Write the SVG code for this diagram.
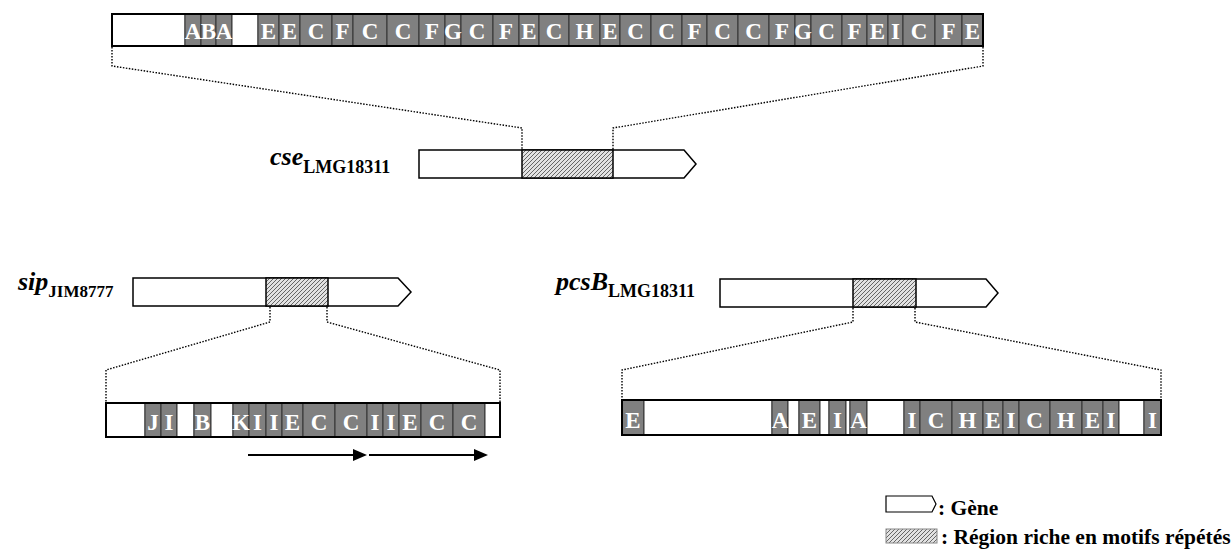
<svg xmlns="http://www.w3.org/2000/svg" width="1232" height="557" viewBox="0 0 1232 557">
<style>
.seg{fill:#808080;stroke:#333;stroke-width:1}
.wht{fill:#fff;stroke:#333;stroke-width:1}
.frame{fill:none;stroke:#000;stroke-width:2}
.lt{font-family:"Liberation Serif","Times New Roman",serif;font-weight:bold;font-size:23px;fill:#fff;text-anchor:middle}
.gene{fill:#fff;stroke:#000;stroke-width:1.5}
.hatch{fill:url(#hp);stroke:#000;stroke-width:1.5}
.dot{fill:none;stroke:#000;stroke-width:1.4;stroke-dasharray:1.5 1.5}
.lbl{font-family:"Liberation Serif","Times New Roman",serif;font-weight:bold;fill:#000}
.main{font-style:italic;font-size:26px}
.sub{font-size:18px}
.leg{font-family:"Liberation Serif","Times New Roman",serif;font-weight:bold;font-size:21.5px;fill:#000}
.arr{stroke:#000;stroke-width:2;fill:none}
</style>
<defs>
<pattern id="hp" patternUnits="userSpaceOnUse" width="4" height="4">
<rect width="4" height="4" fill="#e2e2e2"/>
<path d="M-1,1 L1,-1 M0,4 L4,0 M3,5 L5,3" stroke="#666" stroke-width="1"/>
</pattern>
</defs>

<g id="connectors">
<polyline class="dot" points="112,47 112,66 522,128 522,150"/>
<polyline class="dot" points="983,47 983,66 613,128 613,150"/>
<polyline class="dot" points="270,307 270,322 106,370 106,402"/>
<polyline class="dot" points="327,307 327,322 500,370 500,402"/>
<polyline class="dot" points="853,308 853,322 622,370 622,400"/>
<polyline class="dot" points="915,308 915,322 1161,370 1161,400"/>
<line class="arr" x1="248" y1="455" x2="356" y2="455"/>
<polygon points="353,449 367,455 353,461" fill="#000"/>
<line class="arr" x1="369" y1="455" x2="477" y2="455"/>
<polygon points="474,449 488,455 474,461" fill="#000"/>
</g>

<g id="top-bar">
<rect class="wht" x="112" y="14" width="73" height="32"/>
<rect class="seg" x="185" y="14" width="16" height="32"/>
<rect class="seg" x="201" y="14" width="15" height="32"/>
<rect class="seg" x="216" y="14" width="16" height="32"/>
<rect class="wht" x="232" y="14" width="26" height="32"/>
<rect class="seg" x="258" y="14" width="21" height="32"/>
<rect class="seg" x="279" y="14" width="21" height="32"/>
<rect class="seg" x="300" y="14" width="32" height="32"/>
<rect class="seg" x="332" y="14" width="21" height="32"/>
<rect class="seg" x="353" y="14" width="34" height="32"/>
<rect class="seg" x="387" y="14" width="32" height="32"/>
<rect class="seg" x="419" y="14" width="26" height="32"/>
<rect class="seg" x="445" y="14" width="16" height="32"/>
<rect class="seg" x="461" y="14" width="32" height="32"/>
<rect class="seg" x="493" y="14" width="26" height="32"/>
<rect class="seg" x="519" y="14" width="20" height="32"/>
<rect class="seg" x="539" y="14" width="30" height="32"/>
<rect class="seg" x="569" y="14" width="31" height="32"/>
<rect class="seg" x="600" y="14" width="20" height="32"/>
<rect class="seg" x="620" y="14" width="31" height="32"/>
<rect class="seg" x="651" y="14" width="31" height="32"/>
<rect class="seg" x="682" y="14" width="25" height="32"/>
<rect class="seg" x="707" y="14" width="31" height="32"/>
<rect class="seg" x="738" y="14" width="31" height="32"/>
<rect class="seg" x="769" y="14" width="26" height="32"/>
<rect class="seg" x="795" y="14" width="16" height="32"/>
<rect class="seg" x="811" y="14" width="31" height="32"/>
<rect class="seg" x="842" y="14" width="25" height="32"/>
<rect class="seg" x="867" y="14" width="21" height="32"/>
<rect class="seg" x="888" y="14" width="15" height="32"/>
<rect class="seg" x="903" y="14" width="32" height="32"/>
<rect class="seg" x="935" y="14" width="27" height="32"/>
<rect class="seg" x="962" y="14" width="21" height="32"/>
<rect class="frame" x="112" y="14" width="871" height="32"/>
<text class="lt" x="193" y="39">A</text>
<text class="lt" x="208.5" y="39">B</text>
<text class="lt" x="224" y="39">A</text>
<text class="lt" x="268.5" y="39">E</text>
<text class="lt" x="289.5" y="39">E</text>
<text class="lt" x="316" y="39">C</text>
<text class="lt" x="342.5" y="39">F</text>
<text class="lt" x="370" y="39">C</text>
<text class="lt" x="403" y="39">C</text>
<text class="lt" x="432" y="39">F</text>
<text class="lt" x="453" y="39">G</text>
<text class="lt" x="477" y="39">C</text>
<text class="lt" x="506" y="39">F</text>
<text class="lt" x="529" y="39">E</text>
<text class="lt" x="554" y="39">C</text>
<text class="lt" x="584.5" y="39">H</text>
<text class="lt" x="610" y="39">E</text>
<text class="lt" x="635.5" y="39">C</text>
<text class="lt" x="666.5" y="39">C</text>
<text class="lt" x="694.5" y="39">F</text>
<text class="lt" x="722.5" y="39">C</text>
<text class="lt" x="753.5" y="39">C</text>
<text class="lt" x="782" y="39">F</text>
<text class="lt" x="803" y="39">G</text>
<text class="lt" x="826.5" y="39">C</text>
<text class="lt" x="854.5" y="39">F</text>
<text class="lt" x="877.5" y="39">E</text>
<text class="lt" x="895.5" y="39">I</text>
<text class="lt" x="919" y="39">C</text>
<text class="lt" x="948.5" y="39">F</text>
<text class="lt" x="972.5" y="39">E</text>
</g>

<g id="cse-gene">
<polygon class="gene" points="419,150 684,150 696,164 684,178 419,178"/>
<rect class="hatch" x="522" y="150" width="91" height="28"/>
<text class="lbl" x="270" y="165"><tspan class="main">cse</tspan><tspan class="sub" dy="8">LMG18311</tspan></text>
</g>

<g id="sip-gene">
<polygon class="gene" points="133,278 398,278 411,292 398,306 133,306"/>
<rect class="hatch" x="266" y="278" width="62" height="28"/>
<text class="lbl" x="18" y="290"><tspan class="main">sip</tspan><tspan class="sub" dy="7" style="font-size:17px">JIM8777</tspan></text>
</g>

<g id="pcsB-gene">
<polygon class="gene" points="720,279 986,279 998,293 986,307 720,307"/>
<rect class="hatch" x="853" y="279" width="63" height="28"/>
<text class="lbl" x="556" y="290"><tspan class="main">pcsB</tspan><tspan class="sub" dy="7">LMG18311</tspan></text>
</g>

<g id="sip-bar">
<rect class="wht" x="106" y="403" width="39" height="34"/>
<rect class="seg" x="145" y="403" width="16" height="34"/>
<rect class="seg" x="161" y="403" width="16" height="34"/>
<rect class="wht" x="177" y="403" width="17" height="34"/>
<rect class="seg" x="194" y="403" width="17" height="34"/>
<rect class="wht" x="211" y="403" width="22" height="34"/>
<rect class="seg" x="233" y="403" width="16" height="34"/>
<rect class="seg" x="249" y="403" width="17" height="34"/>
<rect class="seg" x="266" y="403" width="16" height="34"/>
<rect class="seg" x="282" y="403" width="21" height="34"/>
<rect class="seg" x="303" y="403" width="32" height="34"/>
<rect class="seg" x="335" y="403" width="32" height="34"/>
<rect class="seg" x="367" y="403" width="16" height="34"/>
<rect class="seg" x="383" y="403" width="16" height="34"/>
<rect class="seg" x="399" y="403" width="22" height="34"/>
<rect class="seg" x="421" y="403" width="32" height="34"/>
<rect class="seg" x="453" y="403" width="32" height="34"/>
<rect class="wht" x="485" y="403" width="15" height="34"/>
<rect class="frame" x="106" y="403" width="394" height="34"/>
<text class="lt" x="153" y="430">J</text>
<text class="lt" x="169" y="430">I</text>
<text class="lt" x="202.5" y="430">B</text>
<text class="lt" x="241" y="430">K</text>
<text class="lt" x="257.5" y="430">I</text>
<text class="lt" x="274" y="430">I</text>
<text class="lt" x="292.5" y="430">E</text>
<text class="lt" x="319" y="430">C</text>
<text class="lt" x="351" y="430">C</text>
<text class="lt" x="375" y="430">I</text>
<text class="lt" x="391" y="430">I</text>
<text class="lt" x="410" y="430">E</text>
<text class="lt" x="437" y="430">C</text>
<text class="lt" x="469" y="430">C</text>
</g>

<g id="pcsB-bar">
<rect class="seg" x="622" y="400" width="22" height="35"/>
<rect class="wht" x="644" y="400" width="128" height="35"/>
<rect class="seg" x="772" y="400" width="16" height="35"/>
<rect class="wht" x="788" y="400" width="11" height="35"/>
<rect class="seg" x="799" y="400" width="21" height="35"/>
<rect class="wht" x="820" y="400" width="9" height="35"/>
<rect class="seg" x="829" y="400" width="17" height="35"/>
<rect class="wht" x="846" y="400" width="4" height="35"/>
<rect class="seg" x="850" y="400" width="17" height="35"/>
<rect class="wht" x="867" y="400" width="37" height="35"/>
<rect class="seg" x="904" y="400" width="16" height="35"/>
<rect class="seg" x="920" y="400" width="32" height="35"/>
<rect class="seg" x="952" y="400" width="31" height="35"/>
<rect class="seg" x="983" y="400" width="20" height="35"/>
<rect class="seg" x="1003" y="400" width="16" height="35"/>
<rect class="seg" x="1019" y="400" width="31" height="35"/>
<rect class="seg" x="1050" y="400" width="32" height="35"/>
<rect class="seg" x="1082" y="400" width="21" height="35"/>
<rect class="seg" x="1103" y="400" width="16" height="35"/>
<rect class="wht" x="1119" y="400" width="25" height="35"/>
<rect class="seg" x="1144" y="400" width="17" height="35"/>
<rect class="frame" x="622" y="400" width="539" height="35"/>
<text class="lt" x="633" y="428">E</text>
<text class="lt" x="780" y="428">A</text>
<text class="lt" x="809.5" y="428">E</text>
<text class="lt" x="837.5" y="428">I</text>
<text class="lt" x="858.5" y="428">A</text>
<text class="lt" x="912" y="428">I</text>
<text class="lt" x="936" y="428">C</text>
<text class="lt" x="967.5" y="428">H</text>
<text class="lt" x="993" y="428">E</text>
<text class="lt" x="1011" y="428">I</text>
<text class="lt" x="1034.5" y="428">C</text>
<text class="lt" x="1066" y="428">H</text>
<text class="lt" x="1092.5" y="428">E</text>
<text class="lt" x="1111" y="428">I</text>
<text class="lt" x="1152.5" y="428">I</text>
</g>

<g id="legend">
<polygon class="gene" points="886,496 932,496 936,504 932,512 886,512" style="stroke-width:1.2"/>
<text class="leg" x="938" y="515">: Gène</text>
<rect x="886" y="529" width="51" height="14" fill="url(#hp)" stroke="#888" stroke-width="1"/>
<text class="leg" x="941" y="544">: Région riche en motifs répétés</text>
</g>
</svg>
